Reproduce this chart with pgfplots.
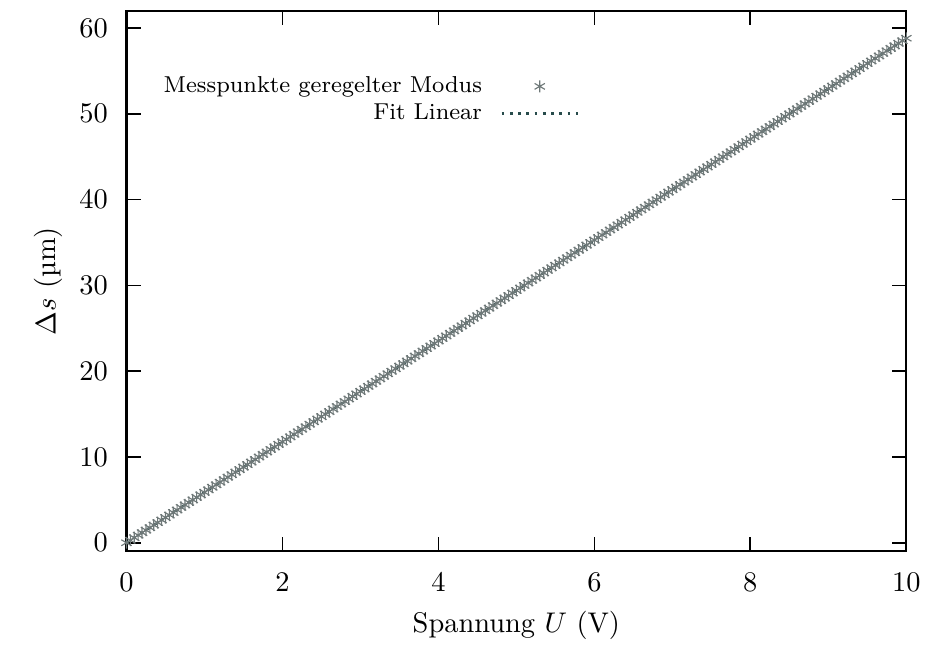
\documentclass[border=0pt]{standalone}
\usepackage{fontspec}
\usepackage{pgfplots}
\pgfplotsset{compat=1.18}
\definecolor{fitcol}{RGB}{40,75,75}
\definecolor{ptcol}{RGB}{110,120,120}
\pgfplotsset{
  ptlegend/.style={legend image code/.code={%
    \draw[mark repeat=2,mark phase=2,##1] plot coordinates {(0cm,0cm) (0.47cm,0cm) (0.94cm,0cm)};}},
  linelegend/.style={legend image code/.code={%
    \draw[##1] (0cm,0cm) -- (0.94cm,0cm);}},
}

\begin{document}
\begin{tikzpicture}
\begin{axis}[
  scale only axis,
  width=274.4pt, height=190.2pt,
  xmin=0, xmax=10, ymin=-1, ymax=62,
  xtick={0,2,...,10}, ytick={0,10,...,60},
  tick align=inside,
  axis line style={line width=0.8pt},
  tick style={black, line width=0.6pt},
  major tick length=5pt,
  yticklabel shift=3pt,
  xticklabel shift=4.2pt,
  xlabel={Spannung $U$ (V)},
  ylabel={$\Delta s$ (µm)},
  ylabel style={yshift=-1pt},
  legend style={draw=none, fill=none, font=\fontsize{8.1}{10}\selectfont,
                at={(rel axis cs:0.592,0.901)}, anchor=north east,
                row sep=-1.5pt,
                /tikz/every odd column/.append style={column sep=4.5pt}},
  legend cell align=right,
  legend plot pos=right,
]
\addplot[only marks, mark=asterisk, mark size=2.1pt, color=ptcol, line width=0.4pt, ptlegend]
  coordinates {
(0.00,0.00) (0.05,0.29) (0.10,0.59) (0.15,0.88) (0.20,1.18) (0.25,1.47) (0.30,1.76) (0.35,2.06) (0.40,2.35) (0.45,2.65)
(0.50,2.94) (0.55,3.23) (0.60,3.53) (0.65,3.82) (0.70,4.12) (0.75,4.41) (0.80,4.70) (0.85,5.00) (0.90,5.29) (0.95,5.59)
(1.00,5.88) (1.05,6.17) (1.10,6.47) (1.15,6.76) (1.20,7.06) (1.25,7.35) (1.30,7.64) (1.35,7.94) (1.40,8.23) (1.45,8.53)
(1.50,8.82) (1.55,9.11) (1.60,9.41) (1.65,9.70) (1.70,10.00) (1.75,10.29) (1.80,10.58) (1.85,10.88) (1.90,11.17) (1.95,11.47)
(2.00,11.76) (2.05,12.05) (2.10,12.35) (2.15,12.64) (2.20,12.94) (2.25,13.23) (2.30,13.52) (2.35,13.82) (2.40,14.11) (2.45,14.41)
(2.50,14.70) (2.55,14.99) (2.60,15.29) (2.65,15.58) (2.70,15.88) (2.75,16.17) (2.80,16.46) (2.85,16.76) (2.90,17.05) (2.95,17.35)
(3.00,17.64) (3.05,17.93) (3.10,18.23) (3.15,18.52) (3.20,18.82) (3.25,19.11) (3.30,19.40) (3.35,19.70) (3.40,19.99) (3.45,20.29)
(3.50,20.58) (3.55,20.87) (3.60,21.17) (3.65,21.46) (3.70,21.76) (3.75,22.05) (3.80,22.34) (3.85,22.64) (3.90,22.93) (3.95,23.23)
(4.00,23.52) (4.05,23.81) (4.10,24.11) (4.15,24.40) (4.20,24.70) (4.25,24.99) (4.30,25.28) (4.35,25.58) (4.40,25.87) (4.45,26.17)
(4.50,26.46) (4.55,26.75) (4.60,27.05) (4.65,27.34) (4.70,27.64) (4.75,27.93) (4.80,28.22) (4.85,28.52) (4.90,28.81) (4.95,29.11)
(5.00,29.40) (5.05,29.69) (5.10,29.99) (5.15,30.28) (5.20,30.58) (5.25,30.87) (5.30,31.16) (5.35,31.46) (5.40,31.75) (5.45,32.05)
(5.50,32.34) (5.55,32.63) (5.60,32.93) (5.65,33.22) (5.70,33.52) (5.75,33.81) (5.80,34.10) (5.85,34.40) (5.90,34.69) (5.95,34.99)
(6.00,35.28) (6.05,35.57) (6.10,35.87) (6.15,36.16) (6.20,36.46) (6.25,36.75) (6.30,37.04) (6.35,37.34) (6.40,37.63) (6.45,37.93)
(6.50,38.22) (6.55,38.51) (6.60,38.81) (6.65,39.10) (6.70,39.40) (6.75,39.69) (6.80,39.98) (6.85,40.28) (6.90,40.57) (6.95,40.87)
(7.00,41.16) (7.05,41.45) (7.10,41.75) (7.15,42.04) (7.20,42.34) (7.25,42.63) (7.30,42.92) (7.35,43.22) (7.40,43.51) (7.45,43.81)
(7.50,44.10) (7.55,44.39) (7.60,44.69) (7.65,44.98) (7.70,45.28) (7.75,45.57) (7.80,45.86) (7.85,46.16) (7.90,46.45) (7.95,46.75)
(8.00,47.04) (8.05,47.33) (8.10,47.63) (8.15,47.92) (8.20,48.22) (8.25,48.51) (8.30,48.80) (8.35,49.10) (8.40,49.39) (8.45,49.69)
(8.50,49.98) (8.55,50.27) (8.60,50.57) (8.65,50.86) (8.70,51.16) (8.75,51.45) (8.80,51.74) (8.85,52.04) (8.90,52.33) (8.95,52.63)
(9.00,52.92) (9.05,53.21) (9.10,53.51) (9.15,53.80) (9.20,54.10) (9.25,54.39) (9.30,54.68) (9.35,54.98) (9.40,55.27) (9.45,55.57)
(9.50,55.86) (9.55,56.15) (9.60,56.45) (9.65,56.74) (9.70,57.04) (9.75,57.33) (9.80,57.62) (9.85,57.92) (9.90,58.21) (9.95,58.51)
(10.00,58.80)
  };
\addlegendentry{Messpunkte geregelter Modus}
\addplot[color=fitcol, dotted, line width=0.9pt, linelegend]
  coordinates {(0,0) (10,58.80)};
\addlegendentry{Fit Linear}
\end{axis}
\path ([xshift=-44.5pt,yshift=-31.5pt]current axis.south west)
  rectangle ([xshift=7.4pt,yshift=3.8pt]current axis.north east);
\end{tikzpicture}
\end{document}
